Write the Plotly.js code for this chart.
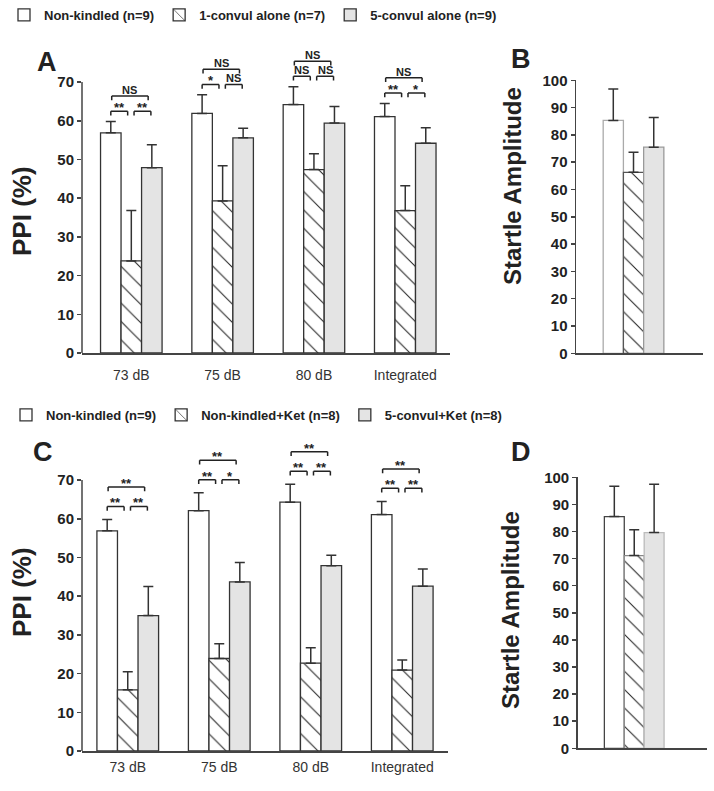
<!DOCTYPE html>
<html>
<head>
<meta charset="utf-8">
<script src="https://cdn.plot.ly/plotly-3.0.1.min.js"></script>
<style>body{margin:0;background:#fff}#graph1{width:714px;height:791px}</style>
</head>
<body>
<div id="graph1"></div>
<script>
(function() {
  const doses = ['73 dB', '75 dB', '80 dB', 'Integrated'];
  const ppiTicks = [0, 10, 20, 30, 40, 50, 60, 70];
  const startleTicks = [0, 10, 20, 30, 40, 50, 60, 70, 80, 90, 100];

  // Panel A - PPI, kindling alone
  const aNames = ['Non-kindled (n=9)', '1-convul alone (n=7)', '5-convul alone (n=9)'];
  const aNon = [56.9, 61.9, 64.2, 61.1];
  const aNonErr = [2.9, 4.8, 4.6, 3.4];
  const aOne = [23.8, 39.3, 47.4, 36.8];
  const aOneErr = [13.0, 9.1, 4.1, 6.4];
  const aFive = [47.9, 55.6, 59.4, 54.2];
  const aFiveErr = [5.9, 2.5, 4.3, 4.0];
  const aSigLeft = ['**', '*', 'NS', '**'];
  const aSigRight = ['**', 'NS', 'NS', '*'];
  const aSigTop = ['NS', 'NS', 'NS', 'NS'];

  // Panel B - startle amplitude
  const bVals = [85.3, 66.3, 75.5];
  const bErr = [11.5, 7.3, 10.9];

  // Panel C - PPI with ketamine
  const cNames = ['Non-kindled (n=9)', 'Non-kindled+Ket (n=8)', '5-convul+Ket (n=8)'];
  const cNon = [56.9, 62.1, 64.3, 61.1];
  const cNonErr = [2.9, 4.6, 4.6, 3.4];
  const cKet = [15.8, 23.9, 22.7, 20.9];
  const cKetErr = [4.7, 3.8, 4.0, 2.6];
  const cFive = [35.0, 43.7, 47.9, 42.6];
  const cFiveErr = [7.5, 5.0, 2.7, 4.4];
  const cSigLeft = ['**', '**', '**', '**'];
  const cSigRight = ['**', '*', '**', '**'];
  const cSigTop = ['**', '**', '**', '**'];

  // Panel D - startle amplitude
  const dVals = [85.5, 71.1, 79.6];
  const dErr = [11.2, 9.5, 17.8];

  const FONT = 'Liberation Sans, Arial, sans-serif';
  const INK = '#333';
  const GREY = '#e4e4e4';
  const hatch = {shape: '\\', size: 13, solidity: 0.08, fgcolor: '#222', bgcolor: 'white'};

  function bar(xa, ya, x, y, err, kind, name, legend, show, edge) {
    const marker = {color: kind === 'grey' ? GREY : 'white', line: {color: edge || INK, width: 1.3}};
    if (kind === 'hatch') marker.pattern = hatch;
    return {
      type: 'bar', x: x, y: y, xaxis: xa, yaxis: ya, name: name, legend: legend, showlegend: show,
      marker: marker, hoverinfo: 'skip',
      error_y: {type: 'data', array: err, arrayminus: err.map(() => 0), symmetric: false,
                color: INK, thickness: 1.5, width: 5}
    };
  }

  const one = ['s'];
  const data = [
    bar('x', 'y', doses, aNon, aNonErr, 'white', aNames[0], 'legend', true),
    bar('x', 'y', doses, aOne, aOneErr, 'hatch', aNames[1], 'legend', true),
    bar('x', 'y', doses, aFive, aFiveErr, 'grey', aNames[2], 'legend', true),
    bar('x2', 'y2', one, [bVals[0]], [bErr[0]], 'white', '', 'legend', false, '#aaa'),
    bar('x2', 'y2', one, [bVals[1]], [bErr[1]], 'hatch', '', 'legend', false, '#555'),
    bar('x2', 'y2', one, [bVals[2]], [bErr[2]], 'grey', '', 'legend', false, '#999'),
    bar('x3', 'y3', doses, cNon, cNonErr, 'white', cNames[0], 'legend2', true),
    bar('x3', 'y3', doses, cKet, cKetErr, 'hatch', cNames[1], 'legend2', true),
    bar('x3', 'y3', doses, cFive, cFiveErr, 'grey', cNames[2], 'legend2', true),
    bar('x4', 'y4', one, [dVals[0]], [dErr[0]], 'white', '', 'legend', false, '#444'),
    bar('x4', 'y4', one, [dVals[1]], [dErr[1]], 'hatch', '', 'legend', false, '#888'),
    bar('x4', 'y4', one, [dVals[2]], [dErr[2]], 'grey', '', 'legend', false, '#bbb')
  ];

  const shapes = [];
  const annotations = [];
  const w = 0.2245; // width of one bar in category units (bargap 0.326, 3 bars)

  function sigText(xa, ya, x, y, txt) {
    const star = txt !== 'NS';
    annotations.push({xref: xa, yref: ya, x: x, y: y, text: txt, showarrow: false,
      yanchor: 'bottom', yshift: star ? -5 : -1, borderpad: 0,
      font: {family: FONT, size: star ? 13 : 11, color: '#222', weight: 'bold'}});
  }
  function bracket(xa, ya, x0, x1, y, drop, txt) {
    const l = {color: '#222', width: 1.5};
    shapes.push({type: 'line', xref: xa, yref: ya, x0: x0, x1: x1, y0: y, y1: y, line: l});
    shapes.push({type: 'line', xref: xa, yref: ya, x0: x0, x1: x0, y0: y, y1: y - drop, line: l});
    shapes.push({type: 'line', xref: xa, yref: ya, x0: x1, x1: x1, y0: y, y1: y - drop, line: l});
    sigText(xa, ya, (x0 + x1) / 2, y, txt);
  }
  function brackets(xa, ya, base, err, left, right, top, gapLow, gapHigh) {
    base.forEach((v, i) => {
      const lo = v + err[i] + gapLow;
      const hi = lo + gapHigh;
      bracket(xa, ya, i - w, i - 0.04, lo, 1.1, left[i]);
      bracket(xa, ya, i + 0.03, i + w - 0.01, lo, 1.1, right[i]);
      bracket(xa, ya, i - w + 0.01, i + w - 0.04, hi, 1.1, top[i]);
    });
  }
  brackets('x', 'y', aNon, aNonErr, aSigLeft, aSigRight, aSigTop, 2.7, 3.9);
  brackets('x3', 'y3', cNon, cNonErr, cSigLeft, cSigRight, cSigTop, 3.4, 5.0);

  // y axis lines for PPI panels stop at 70
  ['x', 'x3'].forEach((xa, k) => {
    shapes.push({type: 'line', xref: xa + ' domain', yref: k ? 'y3' : 'y', x0: 0, x1: 0, y0: 0, y1: 70,
                 line: {color: '#444', width: 1.5}});
  });

  function label(x, y, text, size, angle) {
    annotations.push({xref: 'paper', yref: 'paper', x: x, y: y, text: text, showarrow: false,
      textangle: angle || 0, xanchor: 'center', yanchor: 'middle',
      font: {family: FONT, size: size, color: '#222', weight: 'bold'}});
  }
  label(47 / 714, 1 - 62 / 791, 'A', 27);
  label(521 / 714, 1 - 59 / 791, 'B', 27);
  label(43 / 714, 1 - 452 / 791, 'C', 27);
  label(521 / 714, 1 - 452 / 791, 'D', 27);
  label(22 / 714, 1 - 211 / 791, 'PPI (%)', 26, -90);
  label(22 / 714, 1 - 592 / 791, 'PPI (%)', 26, -90);
  label(512 / 714, 1 - 186 / 791, 'Startle Amplitude', 24, -90);
  label(510 / 714, 1 - 610 / 791, 'Startle Amplitude', 24, -90);

  const tickFont = {family: FONT, size: 15, color: '#222', weight: 'bold'};
  function xAxis(dom, range, labels, anchor, standoff) {
    return {domain: dom, range: range, anchor: anchor, type: 'category', showline: true,
      linecolor: '#444', linewidth: 1.5, ticks: '', showgrid: false, zeroline: false,
      showticklabels: labels, ticklabelstandoff: standoff || 0, fixedrange: true,
      tickfont: {family: FONT, size: 14, color: '#333'}};
  }
  function yAxis(dom, range, ticks, line, anchor) {
    return {domain: dom, range: range, anchor: anchor, tickvals: ticks, showline: line,
      linecolor: '#444', linewidth: 1.5, ticks: 'outside', ticklen: 4, tickwidth: 1.5,
      tickcolor: '#444', showgrid: false, zeroline: false, tickfont: tickFont, fixedrange: true};
  }

  const legendFont = {family: FONT, size: 13, color: '#222', weight: 'bold'};
  const layout = {
    width: 714, height: 791,
    margin: {l: 0, r: 0, t: 0, b: 0},
    paper_bgcolor: 'white', plot_bgcolor: 'white',
    barmode: 'group', bargap: 0.326, bargroupgap: 0,
    font: {family: FONT},
    xaxis: xAxis([82 / 714, 450 / 714], [-0.54, 3.49], true, 'y', 9),
    yaxis: yAxis([1 - 353 / 791, 1 - 43.4 / 791], [0, 80], ppiTicks, false, 'x'),
    xaxis2: xAxis([576 / 714, 703 / 714], [-0.639, 0.772], false, 'y2'),
    yaxis2: yAxis([1 - 353.3 / 791, 1 - 80.3 / 791], [0, 100], startleTicks, true, 'x2'),
    xaxis3: xAxis([82 / 714, 448 / 714], [-0.5, 3.5], true, 'y3', 3),
    yaxis3: yAxis([1 - 751 / 791, 1 - 441.4 / 791], [0, 80], ppiTicks, false, 'x3'),
    xaxis4: xAxis([577.7 / 714, 706.7 / 714], [-0.638, 0.818], false, 'y4'),
    yaxis4: yAxis([1 - 748.3 / 791, 1 - 477.3 / 791], [0, 100], startleTicks, true, 'x4'),
    legend: {orientation: 'h', x: 4 / 714, xanchor: 'left', y: 1 - 15 / 791, yanchor: 'middle',
             font: legendFont, bgcolor: 'rgba(0,0,0,0)', itemwidth: 30},
    legend2: {orientation: 'h', x: 6 / 714, xanchor: 'left', y: 1 - 415 / 791, yanchor: 'middle',
              font: legendFont, bgcolor: 'rgba(0,0,0,0)', itemwidth: 30},
    shapes: shapes,
    annotations: annotations
  };

  Plotly.newPlot('graph1', data, layout, {displayModeBar: false, staticPlot: true});
})();
</script>
</body>
</html>
